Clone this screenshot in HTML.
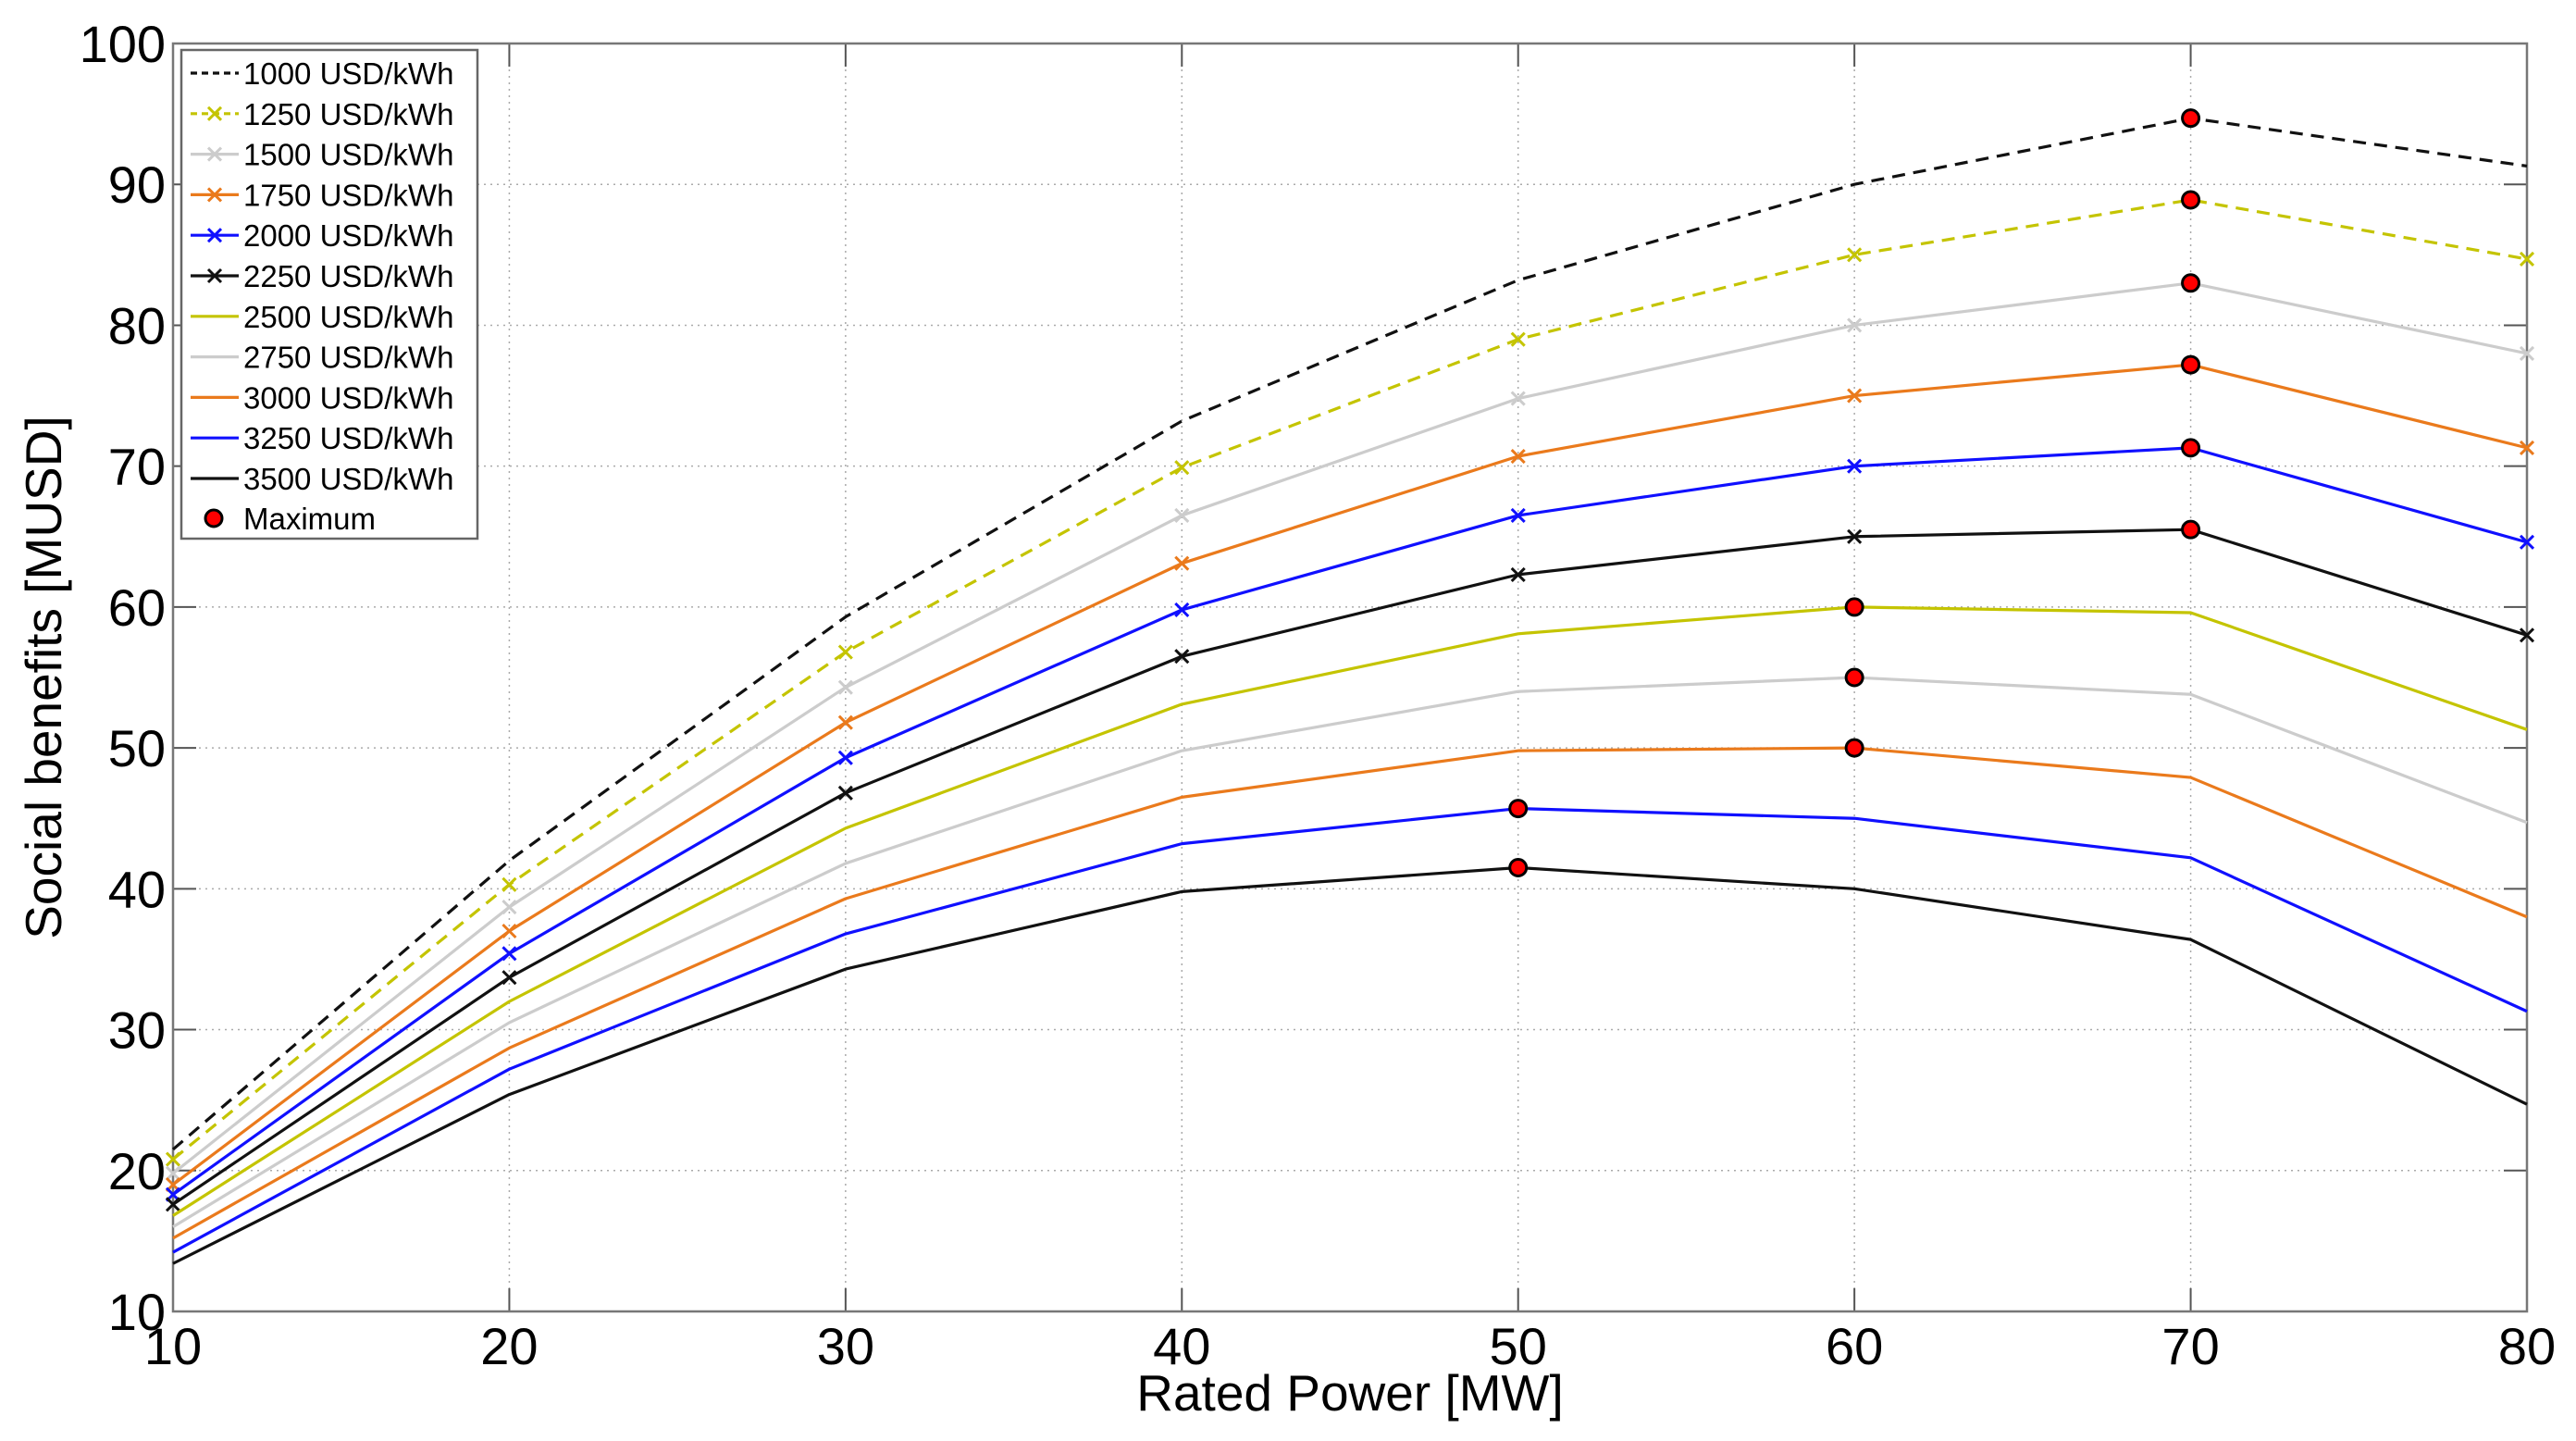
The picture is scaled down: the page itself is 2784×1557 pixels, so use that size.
<!DOCTYPE html>
<html><head><meta charset="utf-8"><style>
html,body{margin:0;padding:0;background:#fff;}
svg{display:block;font-family:"Liberation Sans",Arial,sans-serif;}
</style></head><body>
<svg id="chart" width="2784" height="1557" viewBox="0 0 2784 1557" xmlns="http://www.w3.org/2000/svg"></svg>
<script>
const xValues = [10,20,30,40,50,60,70,80];
const xTicks = [10,20,30,40,50,60,70,80];
const yTicks = [10,20,30,40,50,60,70,80,90,100];
const seriesNames = ["1000 USD/kWh","1250 USD/kWh","1500 USD/kWh","1750 USD/kWh","2000 USD/kWh","2250 USD/kWh","2500 USD/kWh","2750 USD/kWh","3000 USD/kWh","3250 USD/kWh","3500 USD/kWh"];
const s1000 = [21.5,42,59.3,73.2,83.2,90,94.7,91.3];
const s1250 = [20.8,40.3,56.8,69.9,79,85,88.9,84.7];
const s1500 = [19.8,38.7,54.3,66.5,74.8,80,83,78];
const s1750 = [19,37,51.8,63.1,70.7,75,77.2,71.3];
const s2000 = [18.3,35.4,49.3,59.8,66.5,70,71.3,64.6];
const s2250 = [17.6,33.7,46.8,56.5,62.3,65,65.5,58];
const s2500 = [16.8,32,44.3,53.1,58.1,60,59.6,51.3];
const s2750 = [16,30.5,41.8,49.8,54,55,53.8,44.7];
const s3000 = [15.2,28.7,39.3,46.5,49.8,50,47.9,38];
const s3250 = [14.2,27.2,36.8,43.2,45.7,45,42.2,31.3];
const s3500 = [13.4,25.4,34.3,39.8,41.5,40,36.4,24.7];
const seriesValues = [s1000,s1250,s1500,s1750,s2000,s2250,s2500,s2750,s3000,s3250,s3500];

const styles = [
 {c:"#111",dash:"14,9",m:false},
 {c:"#c4c400",dash:"14,9",m:true},
 {c:"#cccccc",dash:null,m:true},
 {c:"#ea7a1c",dash:null,m:true},
 {c:"#1010ff",dash:null,m:true},
 {c:"#111",dash:null,m:true},
 {c:"#c4c400",dash:null,m:false},
 {c:"#cccccc",dash:null,m:false},
 {c:"#ea7a1c",dash:null,m:false},
 {c:"#1010ff",dash:null,m:false},
 {c:"#111",dash:null,m:false}
];
const L=187,R=2731,T=47,B=1417;
const X0=10,X1=80,Y0=10,Y1=100;
const sx=v=>L+(v-X0)/(X1-X0)*(R-L);
const sy=v=>B-(v-Y0)/(Y1-Y0)*(B-T);
const NS="http://www.w3.org/2000/svg";
const svg=document.getElementById('chart');
function mk(tag,attrs,parent){const e=document.createElementNS(NS,tag);for(const k in attrs)e.setAttribute(k,attrs[k]);(parent||svg).appendChild(e);return e;}

const grid=mk('g',{});


xTicks.forEach(t=>{
 if(t>X0&&t<X1){const l=mk('line',{x1:sx(t),x2:sx(t),y1:T,y2:B,stroke:"#aaa","stroke-width":1.5,"stroke-dasharray":"2,5"},grid);
 }
 mk('line',{x1:sx(t),x2:sx(t),y1:B,y2:B-25,stroke:"#555","stroke-width":2},grid);
 mk('line',{x1:sx(t),x2:sx(t),y1:T,y2:T+25,stroke:"#555","stroke-width":2},grid);
});
yTicks.forEach(t=>{
 if(t>Y0&&t<Y1){const l=mk('line',{x1:L,x2:R,y1:sy(t),y2:sy(t),stroke:"#aaa","stroke-width":1.5,"stroke-dasharray":"2,5"},grid);
 }
 mk('line',{x1:L,x2:L+25,y1:sy(t),y2:sy(t),stroke:"#555","stroke-width":2},grid);
 mk('line',{x1:R,x2:R-25,y1:sy(t),y2:sy(t),stroke:"#555","stroke-width":2},grid);
});
const frame=mk('rect',{x:L,y:T,width:R-L,height:B-T,fill:"none",stroke:"#777","stroke-width":2.5});



function cross(g,x,y,c){
 mk('path',{d:`M${x-7},${y-7}L${x+7},${y+7}M${x-7},${y+7}L${x+7},${y-7}`,stroke:c,"stroke-width":3,fill:"none"},g);
}
seriesValues.forEach((vals,i)=>{
 const st=styles[i];
 const g=mk('g',{});
 
 
 const pts=vals.map((v,j)=>sx(xValues[j])+','+sy(v)).join(' ');
 const pl=mk('polyline',{points:pts,fill:"none",stroke:st.c,"stroke-width":3.2,"stroke-linejoin":"round"},g);
 if(st.dash)pl.setAttribute('stroke-dasharray',st.dash);
 if(st.m)vals.forEach((v,j)=>cross(g,sx(xValues[j]),sy(v),st.c));
});
const mg=mk('g',{});


seriesValues.forEach(vals=>{
 let k=0;vals.forEach((v,j)=>{if(v>vals[k])k=j;});
 const c=mk('circle',{cx:sx(xValues[k]),cy:sy(vals[k]),r:9,fill:"#ff0000",stroke:"#000","stroke-width":3},mg);
 
 
});

xTicks.forEach(t=>{
 const tx=mk('text',{x:sx(t),y:1474,"font-size":56,"text-anchor":"middle",fill:"#000"});
 tx.textContent=t;
 
 
});
yTicks.forEach(t=>{
 const tx=mk('text',{x:179,y:sy(t)+20,"font-size":56,"text-anchor":"end",fill:"#000"});
 tx.textContent=t;
 
 
});
const xt=mk('text',{x:1459,y:1524,"font-size":55,"text-anchor":"middle",fill:"#000"});
xt.textContent="Rated Power [MW]";


const yt=mk('text',{x:0,y:0,"font-size":55,"text-anchor":"middle",fill:"#000",transform:"translate(66,732) rotate(-90)"});
yt.textContent="Social benefits [MUSD]";



const lg=mk('g',{});


mk('rect',{x:196,y:54,width:320,height:528,fill:"#fff",stroke:"#666","stroke-width":2.5},lg);
seriesNames.forEach((n,i)=>{
 const st=styles[i];const y=79+i*43.8;
 const e=mk('g',{},lg);
 
 
 const ln=mk('line',{x1:206,x2:258,y1:y,y2:y,stroke:st.c,"stroke-width":3.2},e);
 if(st.dash)ln.setAttribute('stroke-dasharray',"7,5");
 if(i>=1&&i<=5)cross(e,232,y,st.c);
 const tx=mk('text',{x:263,y:y+12,"font-size":33,fill:"#000"},e);
 tx.textContent=n;
});
const me=mk('g',{},lg);


mk('circle',{cx:231,cy:560,r:9,fill:"#ff0000",stroke:"#000","stroke-width":3},me);
const mt=mk('text',{x:263,y:572,"font-size":33,fill:"#000"},me);
mt.textContent="Maximum";
</script>
</body></html>
